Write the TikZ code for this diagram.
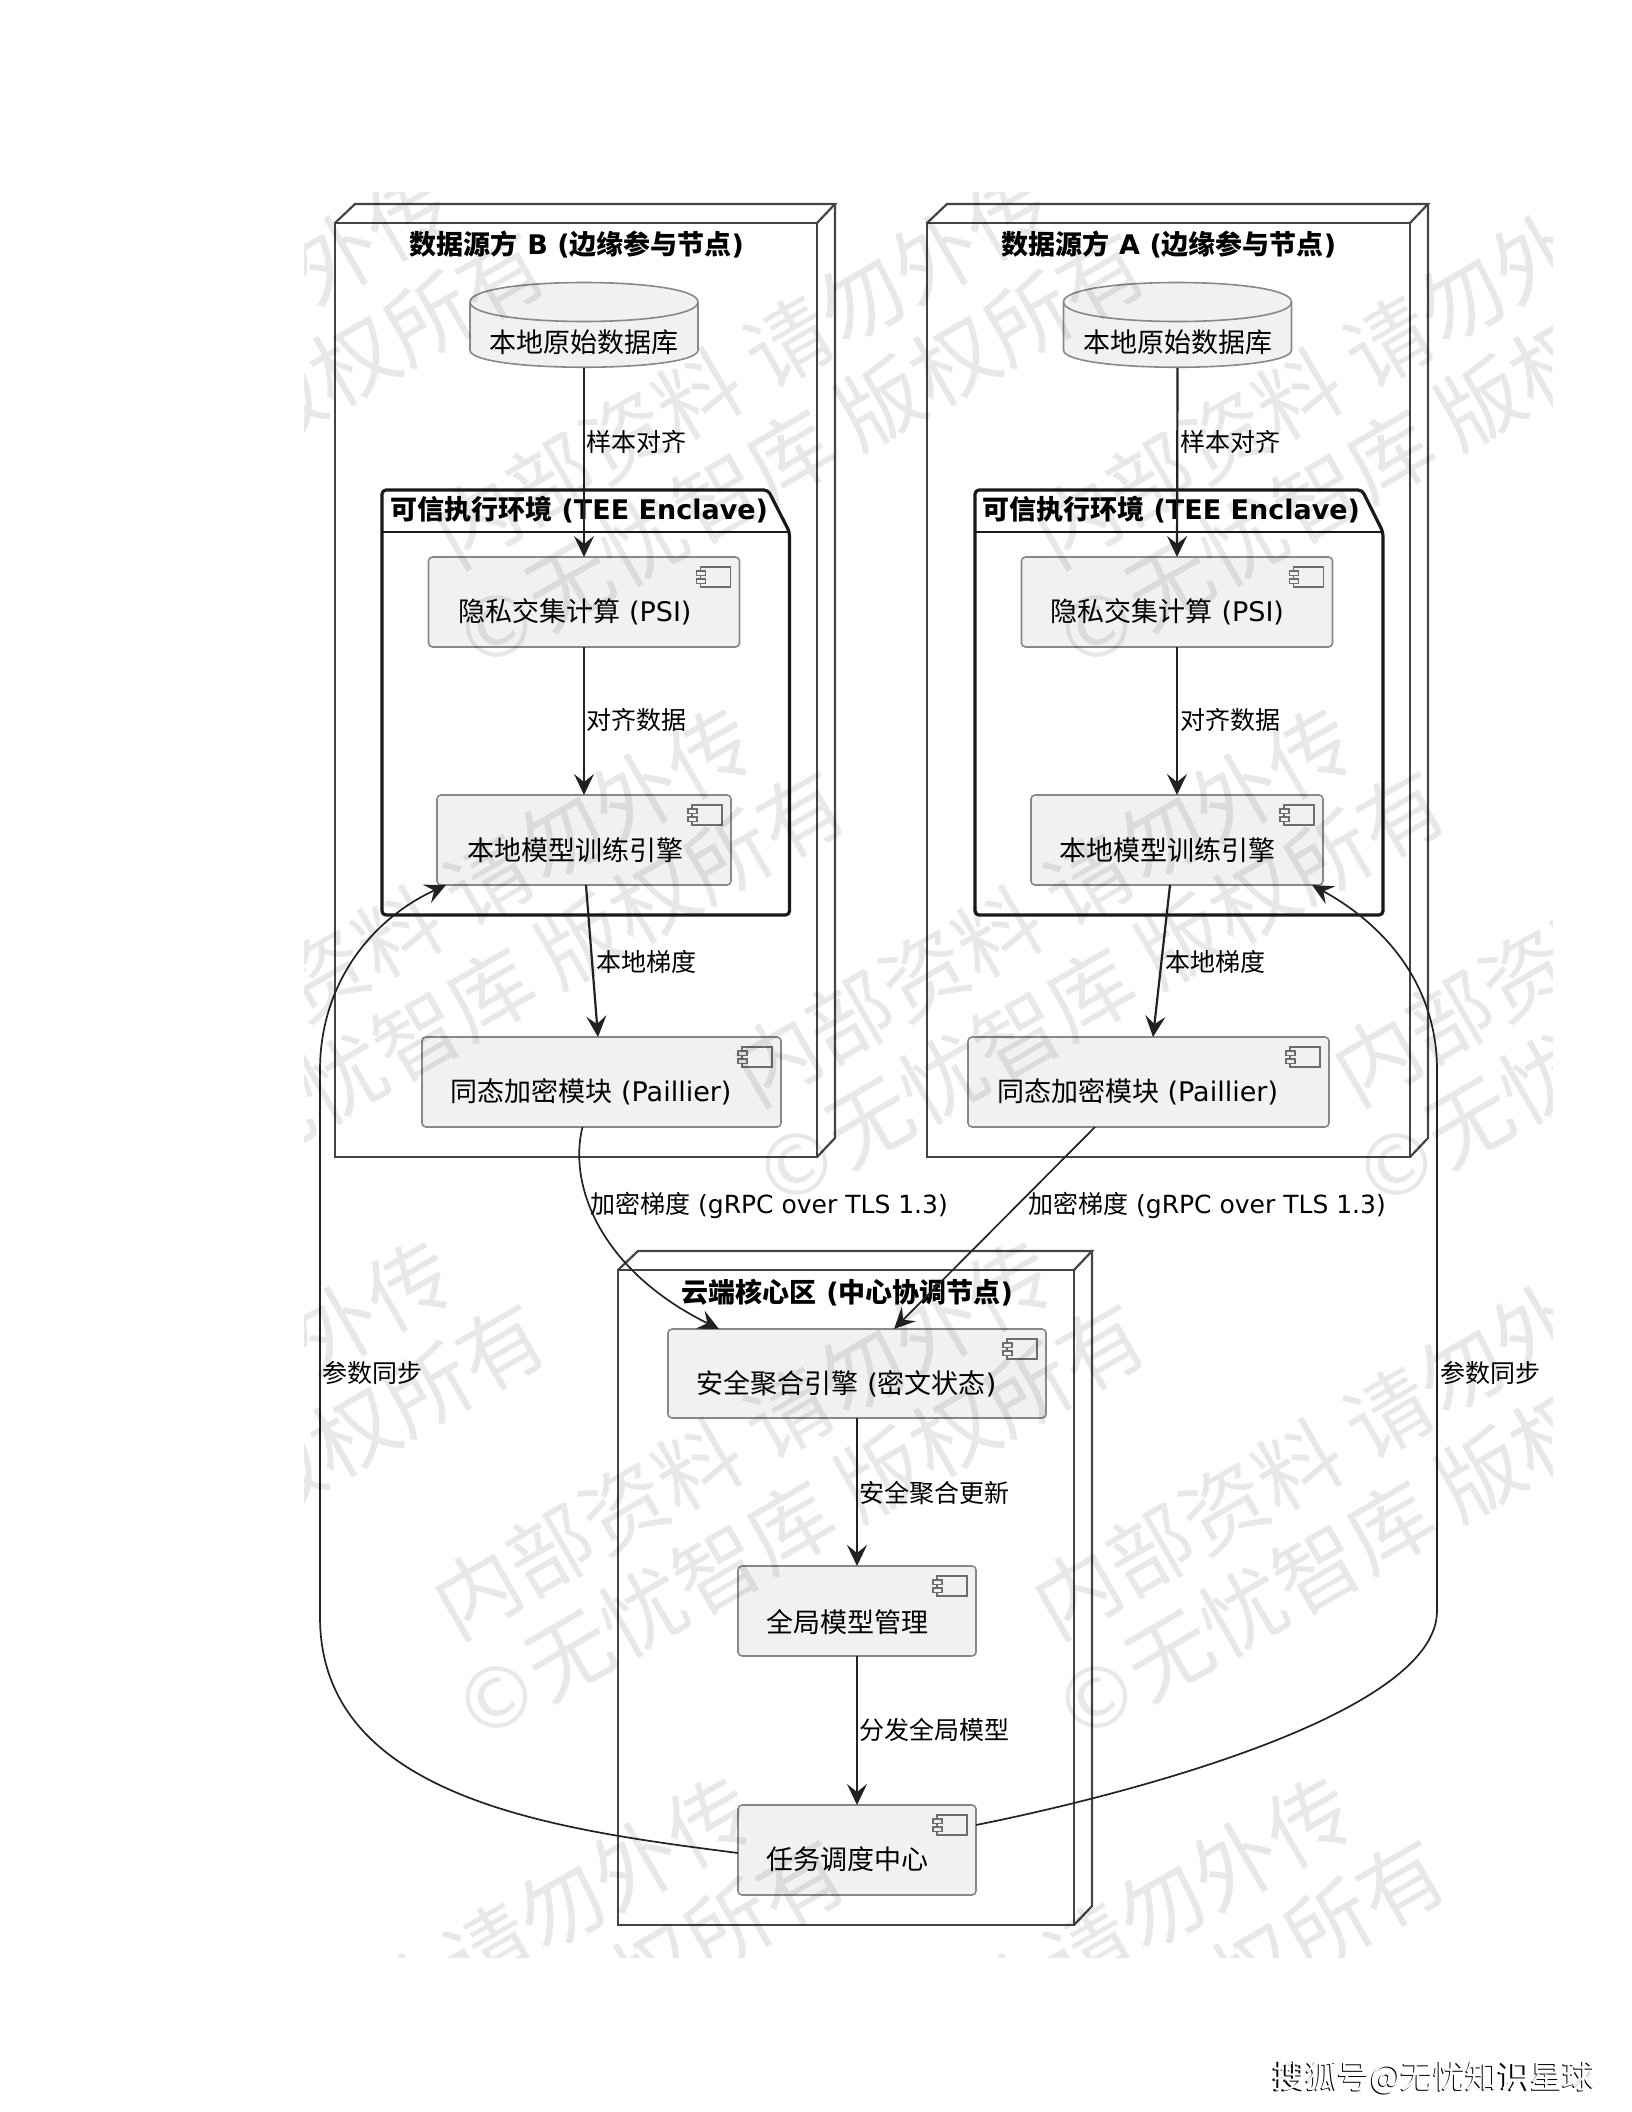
\documentclass[tikz,border=0pt]{standalone}
\usepackage{fontspec}
\usetikzlibrary{arrows.meta,calc}
\setmainfont{Noto Sans CJK SC}
\newfontfamily\ltnf{DejaVu Sans}
\newcommand{\ltn}[1]{{\ltnf #1}}
\newcommand{\fs}[1]{\fontsize{#1}{#1}\selectfont}
\definecolor{boxfill}{HTML}{F1F1F1}
\definecolor{boxline}{HTML}{888888}
\definecolor{frameline}{HTML}{444444}
\definecolor{edgecol}{HTML}{222222}
\tikzset{
  comp/.style={draw=boxline,fill=boxfill,line width=1.6pt,rounded corners=4pt,inner sep=0pt,outer sep=0pt},
  compicon/.style={draw=boxline!80!black,fill=boxfill,line width=1.4pt},
  ctext/.style={inner sep=0pt,font=\fs{27}},
  title/.style={inner sep=0pt,font=\fs{27}\bfseries},
  elabel/.style={inner sep=0pt,anchor=west,font=\fs{25}},
  frame/.style={draw=frameline,line width=2.2pt,inner sep=0pt,outer sep=0pt},
  pkgline/.style={draw=black!90,line width=3.2pt,rounded corners=4pt,line join=round},
  edge/.style={draw=edgecol,line width=2.2pt,-{Stealth[length=21pt,width=20pt,inset=8pt]}},
  thin arrow/.style={draw=edgecol,line width=1.7pt,-{Stealth[length=21pt,width=20pt,inset=8pt]}},
  wmark/.style={inner sep=0pt,anchor=west,rotate=30,text=black,text opacity=.09,font=\fs{85}},
}
% name x1 y1 x2 y2 text tx ty
\newcommand{\compbox}[8]{%
  \node[comp,minimum width={(#4-#2)*1pt},minimum height={(#5-#3)*1pt}] (#1) at ({(#2+#4)/2},{(#3+#5)/2}) {};
  \draw[compicon] ({#4-39},{#3+10}) rectangle ({#4-9},{#3+30});
  \draw[compicon] ({#4-43},{#3+14}) rectangle ({#4-34},{#3+18.5});
  \draw[compicon] ({#4-43},{#3+22}) rectangle ({#4-34},{#3+26.5});
  \node[ctext] (#1t) at (#7,#8) {#6};
}
% name x1 y1 x2 y2 (front face), title, tx, ty
\newcommand{\nodeframe}[8]{%
  \node[frame,minimum width={(#4-#2)*1pt},minimum height={(#5-#3)*1pt}] (#1) at ({(#2+#4)/2},{(#3+#5)/2}) {};
  \draw[frame] (#1.north west) -- ++(20,-19) -- ($(#1.north east)+(18,-19)$) -- (#1.north east);
  \draw[frame] ($(#1.north east)+(18,-19)$) -- ($(#1.south east)+(18,-19)$) -- (#1.south east);
  \node[title] (#1t) at (#7,#8) {#6};
}
% name x1 y-top y-body x2 tabright y-bottom title tx
\newcommand{\pkgbox}[9]{%
  \coordinate (#1nw) at (#2,#3);
  \draw[pkgline] (#2,#4) -- (#2,#3) -- (#6,#3) -- (#5,#4) -- (#5,#7) -- (#2,#7) -- cycle;
  \draw[draw=black!90,line width=2.6pt] (#2,#4) -- (#5,#4);
  \node[title,anchor=west] (#1t) at (#9,{#3+20}) {#8};
}
\newcommand{\dbnode}[3]{% name, center x, text
  \node[inner sep=0pt,outer sep=0pt,minimum width=228pt,minimum height=86pt] (#1) at (#2,325) {};
  \draw[draw=boxline,line width=1.6pt,fill=boxfill] ({#2-114},302) .. controls ({#2-114},276) and ({#2+114},276) .. ({#2+114},302)
     -- ({#2+114},350) .. controls ({#2+114},373) and ({#2-114},373) .. ({#2-114},350) -- cycle;
  \draw[draw=boxline,line width=1.6pt] ({#2-114},302) .. controls ({#2-114},328) and ({#2+114},328) .. ({#2+114},302);
  \node[ctext] (#1t) at (#2,342) {#3};
}
\begin{document}
\begin{tikzpicture}[x=1pt,y=-1pt]
\useasboundingbox (0,0) rectangle (1632,2112);
% ---- frames
\nodeframe{frB}{335}{223}{817}{1157}{数据源方\ltn{ B (}边缘参与节点\ltn{)}}{577}{245}
\nodeframe{frA}{927}{223}{1410}{1157}{数据源方\ltn{ A (}边缘参与节点\ltn{)}}{1169}{245}
\nodeframe{frC}{618}{1270}{1074}{1925}{云端核心区\ltn{ (}中心协调节点\ltn{)}}{847.5}{1293}
% ---- databases
\dbnode{dbB}{584}{本地原始数据库}
\dbnode{dbA}{1177.5}{本地原始数据库}
% ---- packages
\pkgbox{pkB}{382}{490}{532}{789.5}{768}{915}{可信执行环境\ltn{ (TEE Enclave)}}{390}
\pkgbox{pkA}{975}{490}{532}{1383}{1362}{915}{可信执行环境\ltn{ (TEE Enclave)}}{982}
% ---- components
\compbox{psiB}{428.5}{557}{739.5}{647}{隐私交集计算\ltn{ (PSI)}}{575}{612}
\compbox{trainB}{437}{795}{731}{885}{本地模型训练引擎}{575}{850}
\compbox{heB}{422}{1037}{781}{1127}{同态加密模块\ltn{ (Paillier)}}{591}{1092}
\compbox{psiA}{1021.5}{557}{1332.5}{647}{隐私交集计算\ltn{ (PSI)}}{1167.5}{612}
\compbox{trainA}{1031}{795}{1323}{885}{本地模型训练引擎}{1167}{850}
\compbox{heA}{968}{1037}{1329}{1127}{同态加密模块\ltn{ (Paillier)}}{1137.5}{1092}
\compbox{agg}{668}{1329}{1046}{1418}{安全聚合引擎\ltn{ (}密文状态\ltn{)}}{846.5}{1384}
\compbox{glob}{738}{1566}{976}{1656}{全局模型管理}{847}{1622}
\compbox{task}{738}{1805}{976}{1895}{任务调度中心}{847}{1859}
% ---- edges
\draw[edge] (dbB.south) -- (psiB.north);
\draw[edge] (dbA.south) -- (psiA.north);
\draw[edge] (psiB.south) -- (psiB.south |- trainB.north);
\draw[edge] (psiA.south) -- (psiA.south |- trainA.north);
\draw[edge] ([xshift=2pt]trainB.south) -- ([xshift=-3.5pt]heB.north);
\draw[edge] ([xshift=-7pt]trainA.south) -- ([xshift=4.5pt]heA.north);
\draw[thin arrow] ([xshift=-19pt]heB.south) .. controls (568,1185) and (600,1270) .. ([xshift=-138pt]agg.north);
\draw[thin arrow] ([xshift=-53.5pt]heA.south) -- ([xshift=37pt]agg.north);
\draw[edge] (agg.south) -- (glob.north);
\draw[edge] (glob.south) -- (task.north);
\draw[thin arrow] ([yshift=-3pt]task.west) .. controls (560,1830) and (320,1800) .. (320,1617) -- (320,1070) .. controls (320,985) and (370,920) .. ([xshift=-138pt]trainB.south);
\draw[thin arrow] ([yshift=25pt]task.east) .. controls (1150,1790) and (1437,1710) .. (1437,1611) -- (1437,1070) .. controls (1437,985) and (1385,925) .. ([xshift=135pt]trainA.south);
% ---- edge labels
\node[elabel] (l1) at (586,442) {样本对齐};
\node[elabel] (l2) at (1180,442) {样本对齐};
\node[elabel] (l3) at (586,720) {对齐数据};
\node[elabel] (l4) at (1180,720) {对齐数据};
\node[elabel] (l5) at (596,962) {本地梯度};
\node[elabel] (l6) at (1165,962) {本地梯度};
\node[elabel] (l7) at (590,1205) {加密梯度\ltn{ (gRPC over TLS 1.3)}};
\node[elabel] (l8) at (1028,1205) {加密梯度\ltn{ (gRPC over TLS 1.3)}};
\node[elabel] (l9) at (859,1493) {安全聚合更新};
\node[elabel] (l10) at (859,1730) {分发全局模型};
\node[elabel] (l11) at (322,1373) {参数同步};
\node[elabel] (l12) at (1440,1373) {参数同步};
% ---- watermark
\begin{scope}
\clip (304,192) rectangle (1552,1957);
\foreach \ry/\rx [count=\r] in {8/140,543/440,1081/140,1614/440,2150/140}{
  \foreach \k in {-1,0,1,2}{
    \node[wmark] (wa\r\k) at ({\rx+600*\k},\ry) {内部资料 请勿外传};
    \node[wmark] (wb\r\k) at ({\rx+600*\k+19},{\ry+104}) {\ltn{©}无忧智库 版权所有};
  }
}
\end{scope}
% ---- footer
\node[inner sep=0pt,text=black,font=\fs{32.4}] (fa) at (1433,2078.8) {搜狐号@无忧知识星球};
\node[inner sep=0pt,text=white,font=\fs{32.4}] (fb) at (1434.2,2077.6) {搜狐号@无忧知识星球};
\end{tikzpicture}
\end{document}
